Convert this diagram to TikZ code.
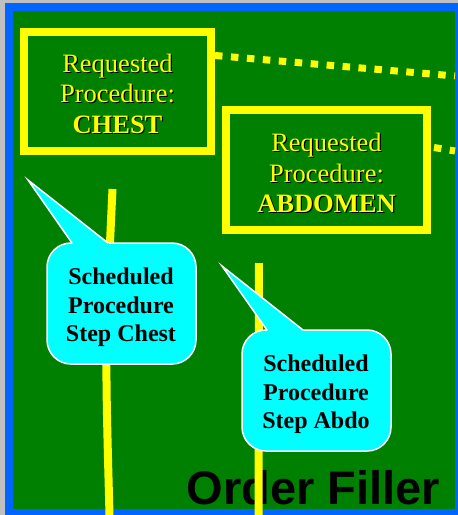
\documentclass[tikz,border=0pt]{standalone}
\usepackage{fontspec}
\setmainfont{Liberation Serif}
\newfontfamily\arialfont{Liberation Sans}
\definecolor{bggreen}{RGB}{0,128,0}
\definecolor{frameblue}{RGB}{0,102,255}
\definecolor{outergray}{RGB}{192,192,192}
\definecolor{hlyellow}{RGB}{255,255,0}
\definecolor{calloutcyan}{RGB}{0,255,255}
\begin{document}
\begin{tikzpicture}[x=1pt,y=-1pt,
  reqtext/.style={text=hlyellow,font=\fontsize{26.5}{30.5}\selectfont,align=center,inner sep=0pt},
  reqshadow/.style={reqtext,text=black},
  reqbox/.style={draw=hlyellow,line width=8pt,inner sep=0pt},
  msgline/.style={draw=hlyellow,line width=7pt,dash pattern=on 7.5pt off 8.5pt},
  lifeline/.style={draw=hlyellow,line width=8pt},
  callout/.style={fill=calloutcyan,draw=white,line width=1.5pt,rounded corners=24pt,inner sep=0pt},
  callouttext/.style={font=\fontsize{24}{28.5}\selectfont\bfseries,align=center,inner sep=0pt,text depth=0pt},
  pointerfill/.style={fill=calloutcyan},
  pointeredge/.style={draw=white,line width=1.5pt,line join=miter}]
\useasboundingbox (0,0) rectangle (458,515);
% background and frame
\fill[outergray] (0,0) rectangle (458,515);
\fill[frameblue] (5,3) rectangle (458,515);
\fill[bggreen] (13,11) rectangle (455,509);
% requested procedure boxes
\node[reqbox,minimum width=187pt,minimum height=119pt] (rp1) at (117.5,91.5) {};
\node[reqshadow] at (118.7,94.7) {Requested\\Procedure:\\\textbf{CHEST}};
\node[reqtext] (rp1text) at (117.5,93.5) {Requested\\Procedure:\\\textbf{CHEST}};
\node[reqbox,minimum width=201pt,minimum height=120pt] (rp2) at (326.5,170) {};
\node[reqshadow] at (327.7,174.2) {Requested\\Procedure:\\\textbf{ABDOMEN}};
\node[reqtext] (rp2text) at (326.5,173) {Requested\\Procedure:\\\textbf{ABDOMEN}};
% dotted message lines
\coordinate (m1end) at (455,76);
\coordinate (m2end) at (455,151);
\draw[msgline] ([yshift=-27.5pt]rp1.north east) -- (m1end);
\draw[msgline,dash phase=13pt] ([yshift=-41pt]rp2.north east) -- (m2end);
% title
\node[anchor=base west,font=\arialfont\bfseries\fontsize{47}{50}\selectfont,inner sep=0pt] (of) at (186.5,504) {Order Filler};
% lifelines
\coordinate (l1top) at (112.5,189);
\coordinate (l1bot) at (109.5,515);
\coordinate (l2top) at (259,263);
\coordinate (l2bot) at (258.5,515);
\draw[lifeline] (l1top) .. controls (105,348) .. (l1bot);
\draw[lifeline] (l2top) -- (l2bot);
% callouts
\node[callout,minimum width=149pt,minimum height=121pt] (sps1) at (121.5,303.5) {};
\fill[pointerfill] (28,180) -- (110.5,245) -- (73.4,245) -- cycle;
\draw[pointeredge] (72,243) -- (28,180) -- (108,243);
\node[callouttext] (sps1text) at (121,305) {Scheduled\\Procedure\\Step Chest};
\node[callout,minimum width=149pt,minimum height=121pt] (sps2) at (316.5,390.5) {};
\fill[pointerfill] (222,266) -- (305.2,332) -- (268.4,332) -- cycle;
\draw[pointeredge] (267,330) -- (222,266) -- (303,330);
\node[callouttext] (sps2text) at (316,392) {Scheduled\\Procedure\\Step Abdo};
\end{tikzpicture}
\end{document}
